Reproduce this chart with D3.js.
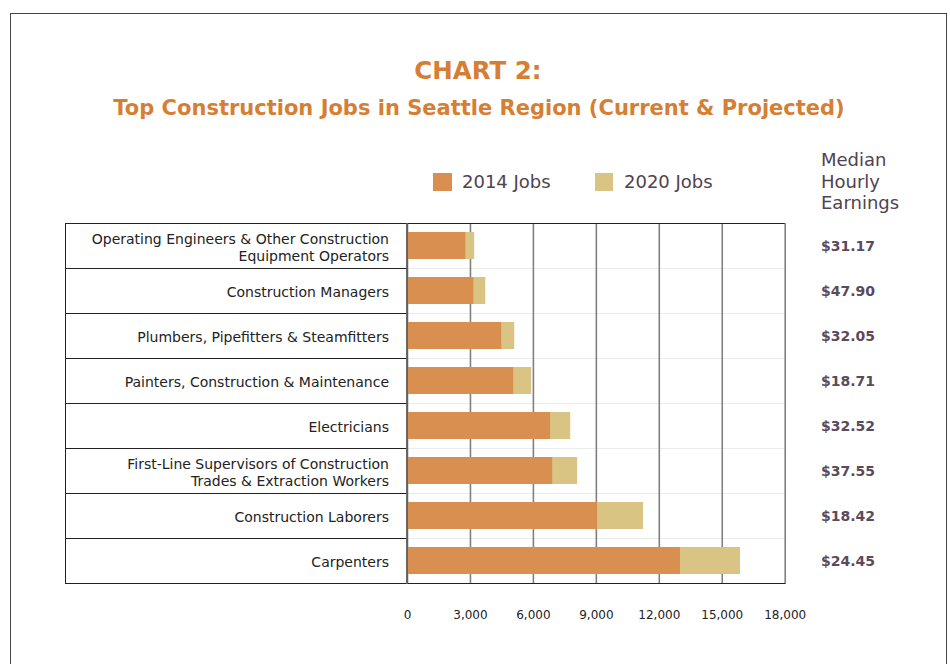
<!DOCTYPE html>
<html>
<head>
<meta charset="utf-8">
<script src="https://cdn.jsdelivr.net/npm/d3@7"></script>
<style>
  body { margin: 0; background: #fff; }
  svg { display: block; font-family: "DejaVu Sans", Verdana, sans-serif; }
</style>
</head>
<body>
<div id="chart"></div>
<script>
// values
const jobs = [
  "Operating Engineers & Other Construction\nEquipment Operators",
  "Construction Managers",
  "Plumbers, Pipefitters & Steamfitters",
  "Painters, Construction & Maintenance",
  "Electricians",
  "First-Line Supervisors of Construction\nTrades & Extraction Workers",
  "Construction Laborers",
  "Carpenters"
];
const jobs2014 = [2780, 3160, 4490, 5060, 6820, 6920, 9060, 13010];
const jobs2020 = [3200, 3730, 5110, 5920, 7780, 8110, 11250, 15870];
const earnings = ["$31.17", "$47.90", "$32.05", "$18.71", "$32.52", "$37.55", "$18.42", "$24.45"];
const xTicks = [0, 3000, 6000, 9000, 12000, 15000, 18000];
const seriesNames = ["2014 Jobs", "2020 Jobs"];

let width = 950,
    height = 664,
    margin = ({ top: 223, right: 165, bottom: 81, left: 407 });

const c2014 = "#d98f4f",
      c2020 = "#dac483",
      titleColor = "#d67f34",
      textColor = "#4f434f";

const svg = d3.select("#chart")
  .append("svg")
  .attr("width", width)
  .attr("height", height);

// outer frame
svg.append("rect")
  .attr("x", 10.5)
  .attr("y", 13.5)
  .attr("width", 936)
  .attr("height", 700)
  .attr("fill", "none")
  .attr("stroke", "#444");

svg.append("text")
  .text("CHART 2:")
  .attr("x", 478)
  .attr("y", 79)
  .attr("text-anchor", "middle")
  .attr("font-size", 24.5)
  .attr("font-weight", "bold")
  .attr("fill", titleColor);

svg.append("text")
  .text("Top Construction Jobs in Seattle Region (Current & Projected)")
  .attr("x", 479)
  .attr("y", 115)
  .attr("text-anchor", "middle")
  .attr("font-size", 21)
  .attr("font-weight", "bold")
  .attr("fill", titleColor);

let x = d3.scaleLinear()
  .domain([0, 18000])
  .range([margin.left, width - margin.right - 0.3]);

let y = d3.scaleBand()
  .domain(jobs)
  .range([margin.top, height - margin.bottom])
  .paddingInner(0.4)
  .paddingOuter(0.2);

let plotBottom = height - margin.bottom;

// faint row lines inside the plot
svg.append("g")
  .selectAll("line")
  .data(jobs.slice(1))
  .join("line")
  .attr("x1", x(0))
  .attr("x2", x(18000))
  .attr("y1", d => Math.round(y(d) - y.step() * 0.2) + 0.5)
  .attr("y2", d => Math.round(y(d) - y.step() * 0.2) + 0.5)
  .attr("stroke", "#ececec");

// vertical grid
svg.append("g")
  .attr("transform", `translate(0,${plotBottom})`)
  .call(d3.axisBottom(x).tickValues(xTicks).tickSize(-(plotBottom - margin.top)).tickFormat(""))
  .call(g => g.select(".domain").remove())
  .call(g => g.selectAll(".tick line").attr("stroke", "#808080").attr("stroke-width", 1.6));

// tick labels
svg.append("g")
  .attr("transform", `translate(0,${plotBottom + 24})`)
  .call(d3.axisBottom(x).tickValues(xTicks).tickSize(0).tickFormat(d3.format(",")))
  .call(g => g.select(".domain").remove())
  .call(g => g.selectAll("text")
    .attr("font-family", "'DejaVu Sans', Verdana, sans-serif")
    .attr("font-size", 12)
    .attr("fill", "#222"));

// bars: 2020 total behind, 2014 on top
svg.append("g")
  .selectAll("rect")
  .data(jobs)
  .join("rect")
  .attr("x", x(0))
  .attr("y", d => y(d))
  .attr("height", y.bandwidth())
  .attr("width", (d, i) => x(jobs2020[i]) - x(0))
  .attr("fill", c2020);

svg.append("g")
  .selectAll("rect")
  .data(jobs)
  .join("rect")
  .attr("x", x(0))
  .attr("y", d => y(d))
  .attr("height", y.bandwidth())
  .attr("width", (d, i) => x(jobs2014[i]) - x(0))
  .attr("fill", c2014);

// top and bottom plot borders
svg.append("line")
  .attr("x1", x(0)).attr("x2", x(18000))
  .attr("y1", margin.top + 0.5).attr("y2", margin.top + 0.5)
  .attr("stroke", "#222");
svg.append("line")
  .attr("x1", x(0)).attr("x2", x(18000) + 1)
  .attr("y1", plotBottom + 0.5).attr("y2", plotBottom + 0.5)
  .attr("stroke", "#222");

// label table on the left
let boxLeft = 65.5;
svg.append("rect")
  .attr("x", boxLeft)
  .attr("y", margin.top + 0.5)
  .attr("width", x(0) - boxLeft)
  .attr("height", plotBottom - margin.top)
  .attr("fill", "none")
  .attr("stroke", "#222");

svg.append("g")
  .selectAll("line")
  .data(jobs.slice(1))
  .join("line")
  .attr("x1", boxLeft)
  .attr("x2", x(0))
  .attr("y1", d => Math.round(y(d) - y.step() * 0.2) + 0.5)
  .attr("y2", d => Math.round(y(d) - y.step() * 0.2) + 0.5)
  .attr("stroke", "#222");

svg.append("line")
  .attr("x1", x(0)).attr("x2", x(0))
  .attr("y1", margin.top).attr("y2", plotBottom + 1)
  .attr("stroke", "#666")
  .attr("stroke-width", 1.6);

let labels = svg.append("g")
  .selectAll("text")
  .data(jobs)
  .join("text")
  .attr("text-anchor", "end")
  .attr("font-size", 14)
  .attr("fill", "#222");

labels.each(function (d) {
  let lines = d.split("\n");
  let cy = y(d) + y.bandwidth() / 2;
  let t = d3.select(this);
  lines.forEach((line, k) => {
    let base = lines.length === 1 ? cy + 6.5 : cy - 1.5 + k * 16.5;
    t.append("tspan")
      .attr("x", 389)
      .attr("y", base)
      .text(line);
  });
});

// earnings column
svg.append("g")
  .selectAll("text")
  .data(earnings)
  .join("text")
  .text(d => d)
  .attr("x", 821)
  .attr("y", (d, i) => y(jobs[i]) + y.bandwidth() / 2 + 5)
  .attr("font-size", 14)
  .attr("font-weight", "bold")
  .attr("fill", "#5b4a5b");

["Median", "Hourly", "Earnings"].forEach((w, k) => {
  svg.append("text")
    .text(w)
    .attr("x", 821)
    .attr("y", 166 + k * 21.7)
    .attr("font-size", 18)
    .attr("fill", textColor);
});

// legend
let legendX = [433, 595];
seriesNames.forEach((name, i) => {
  svg.append("rect")
    .attr("x", legendX[i])
    .attr("y", 173)
    .attr("width", i === 0 ? 19 : 18)
    .attr("height", 18)
    .attr("fill", i === 0 ? c2014 : c2020);
  svg.append("text")
    .text(name)
    .attr("x", legendX[i] + 29)
    .attr("y", 188)
    .attr("font-size", 18)
    .attr("fill", textColor);
});
</script>
</body>
</html>
